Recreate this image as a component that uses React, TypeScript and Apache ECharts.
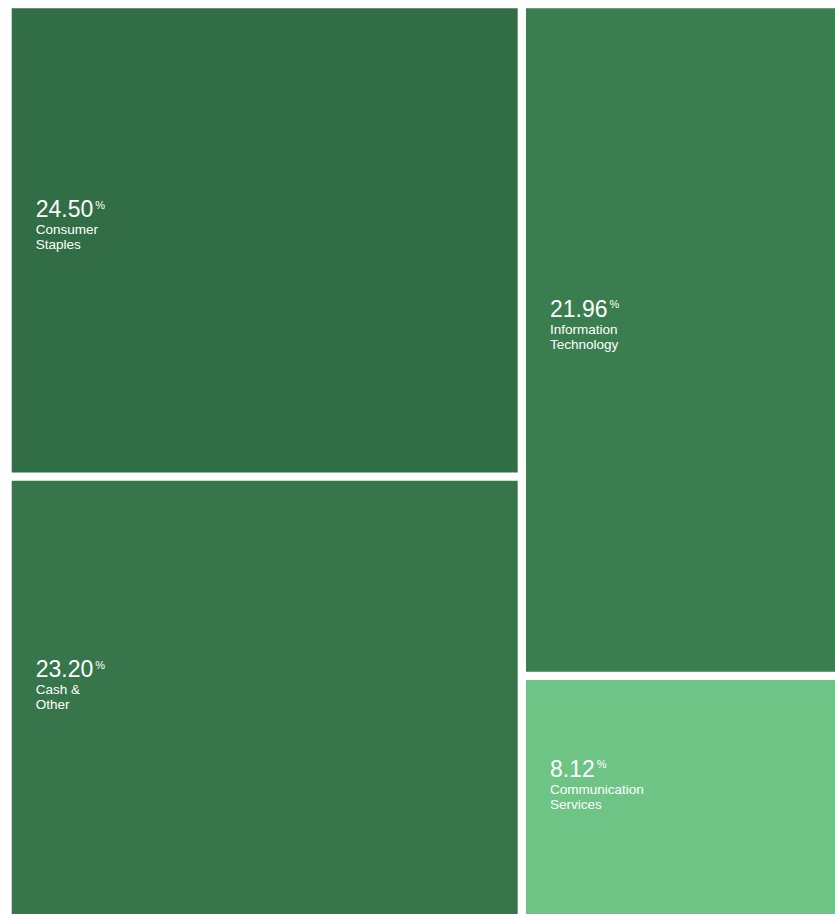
import React, { useEffect, useRef } from "react";
import * as echarts from "echarts";

// ---- data ----
const sectors = [
  "Consumer Staples",
  "Cash & Other",
  "Information Technology",
  "Communication Services",
];
const sectorLabels = [
  "Consumer\nStaples",
  "Cash &\nOther",
  "Information\nTechnology",
  "Communication\nServices",
];
const weights = [24.5, 23.2, 21.96, 8.12];
// which column of the mosaic each sector falls into
const columnOf = [0, 0, 1, 1];
const palette = ["#316e45", "#37764a", "#3a7d4f", "#6dc485"];

// ---- build mosaic cells from the data ----
const total = weights.reduce((a, b) => a + b, 0);
const nCols = Math.max(...columnOf) + 1;
const colTotals: number[] = Array.from({ length: nCols }, (_, c) =>
  weights.reduce((s, w, i) => (columnOf[i] === c ? s + w : s), 0)
);
const colStart: number[] = [];
{
  let acc = 0;
  for (let c = 0; c < nCols; c++) {
    colStart.push(acc);
    acc += colTotals[c];
  }
}
const cells = (() => {
  const yAcc = new Array(nCols).fill(0);
  return weights.map((w, i) => {
    const c = columnOf[i];
    const y0 = yAcc[c];
    const y1 = y0 + w / colTotals[c];
    yAcc[c] = y1;
    return [colStart[c], colStart[c] + colTotals[c], y0, y1, i];
  });
})();

const FONT = '"Liberation Sans", Arial, Helvetica, sans-serif';
const NUM_SIZE = 23;
const PCT_SIZE = 11;
const CAT_SIZE = 13.5;

function measure(text: string, size: number): number {
  const cv = document.createElement("canvas");
  const ctx = cv.getContext("2d");
  if (!ctx) return text.length * size * 0.55;
  ctx.font = `${size}px "Liberation Sans", Arial, sans-serif`;
  return ctx.measureText(text).width;
}

export default function App() {
  const ref = useRef<HTMLDivElement>(null);

  useEffect(() => {
    if (!ref.current) return;
    const chart = echarts.init(ref.current, null, { renderer: "svg" });
    const half = 4.15;
    chart.setOption({
      animation: false,
      grid: { left: 7.55, top: 4.15, width: 838.6, height: 920 },
      xAxis: { type: "value", min: 0, max: total, show: false },
      yAxis: { type: "value", min: 0, max: 1, inverse: true, show: false },
      series: [
        {
          type: "custom",
          name: "Sectors",
          silent: true,
          data: cells,
          renderItem: (params: any, api: any) => {
            const i = api.value(4);
            const p0 = api.coord([api.value(0), api.value(2)]);
            const p1 = api.coord([api.value(1), api.value(3)]);
            const left = p0[0] + half;
            const top = p0[1] + half;
            const w = p1[0] - p0[0] - 2 * half;
            const h = p1[1] - p0[1] - 2 * half;
            const cy = top + h / 2;
            const tx = left + 24;
            const numText = weights[i].toFixed(2);
            const numW = measure(numText, NUM_SIZE);
            const lines = sectorLabels[i].split("\n");
            const children: any[] = [
              {
                type: "rect",
                shape: { x: left, y: top, width: w, height: h },
                style: { fill: palette[i] },
              },
              {
                type: "text",
                x: tx,
                y: cy - 31.3,
                style: {
                  text: numText,
                  fill: "#ffffff",
                  fontSize: NUM_SIZE,
                  fontFamily: FONT,
                  align: "left",
                  verticalAlign: "middle",
                },
              },
              {
                type: "text",
                x: tx + numW + 2,
                y: cy - 35.7,
                style: {
                  text: "%",
                  fill: "#ffffff",
                  fontSize: PCT_SIZE,
                  fontFamily: FONT,
                  align: "left",
                  verticalAlign: "middle",
                },
              },
            ];
            lines.forEach((ln, k) => {
              children.push({
                type: "text",
                x: tx,
                y: cy - 10.5 + k * 15,
                style: {
                  text: ln,
                  fill: "#ffffff",
                  fontSize: CAT_SIZE,
                  fontFamily: FONT,
                  align: "left",
                  verticalAlign: "middle",
                },
              });
            });
            return { type: "group", children };
          },
        },
      ],
    });
    return () => chart.dispose();
  }, []);

  return (
    <div
      style={{
        position: "fixed",
        left: 0,
        top: 0,
        width: 835,
        height: 914,
        overflow: "hidden",
        background: "#ffffff",
      }}
    >
      <div ref={ref} style={{ width: 860, height: 940 }} aria-label={sectors.join(", ")} />
    </div>
  );
}
